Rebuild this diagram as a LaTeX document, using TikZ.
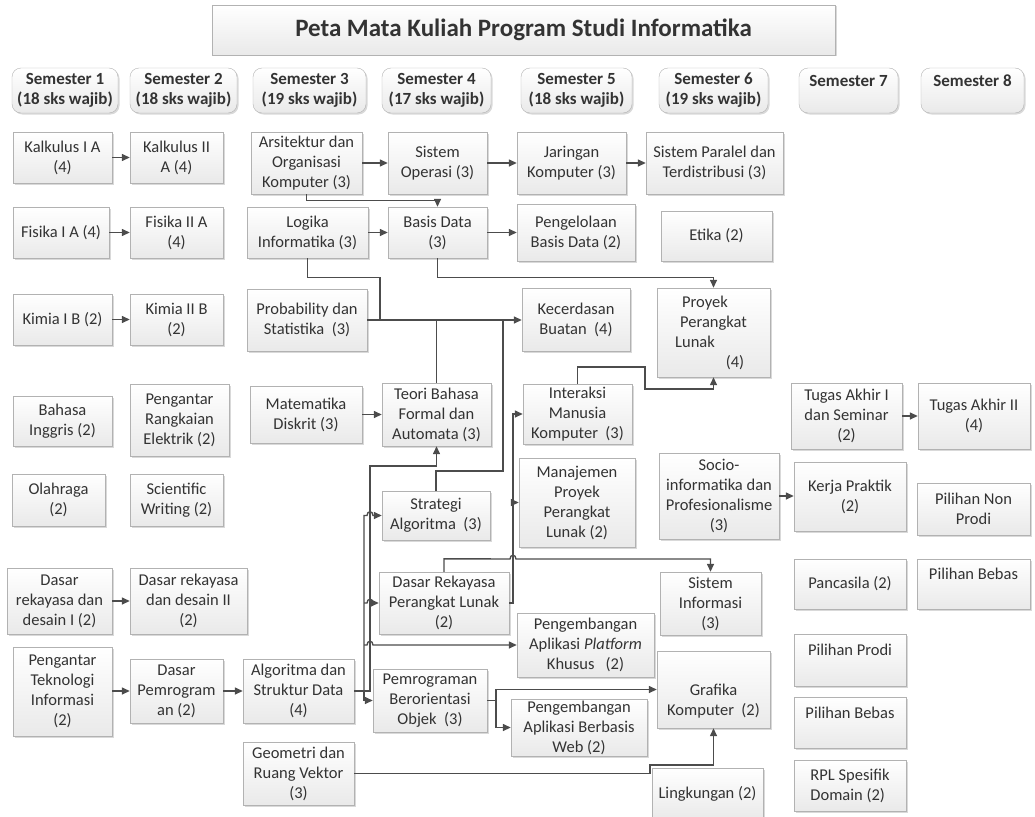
\documentclass[tikz,border=0pt]{standalone}
\usepackage{fontspec}
\setmainfont{Carlito}
\usetikzlibrary{arrows.meta,shadows}
\begin{document}
\begin{tikzpicture}[x=1pt,y=-1pt,>={Triangle[length=8pt,width=7pt]},
  box/.style={draw=gray!60,top color=white,bottom color=gray!17,drop shadow={shadow xshift=1.5pt,shadow yshift=-1.5pt,opacity=0.3},
    align=center,text=black!80,inner sep=1pt,font=\fontsize{16.5}{20}\selectfont},
  sem/.style={box,rounded corners=9pt,font=\bfseries\fontsize{17}{20}\selectfont},
  link/.style={draw=black!70,line width=1.4pt}]
\useasboundingbox (0,0) rectangle (1035,816);
\node[box,minimum width=623,minimum height=50,font=\bfseries\fontsize{25}{29}\selectfont] (title) at (523.5,30) {Peta Mata Kuliah Program Studi Informatika};
\node[sem,minimum width=106,minimum height=45] (s1) at (65,90.5) {Semester 1\\(18 sks wajib)};
\node[sem,minimum width=107,minimum height=45] (s2) at (183.5,90.5) {Semester 2\\(18 sks wajib)};
\node[sem,minimum width=113,minimum height=45] (s3) at (309.5,90.5) {Semester 3\\(19 sks wajib)};
\node[sem,minimum width=109,minimum height=45] (s4) at (436.5,90.5) {Semester 4\\(17 sks wajib)};
\node[sem,minimum width=111,minimum height=45] (s5) at (576.5,90.5) {Semester 5\\(18 sks wajib)};
\node[sem,minimum width=109,minimum height=45] (s6) at (713.5,90.5) {Semester 6\\(19 sks wajib)};
\node[sem,minimum width=99,minimum height=45] (s7) at (848.5,90.5) {Semester 7\\\mbox{}};
\node[sem,minimum width=103,minimum height=45] (s8) at (972.5,90.5) {Semester 8\\\mbox{}};
\node[box,minimum width=99,minimum height=51] (kal1) at (62.5,157.5) {Kalkulus I A\\(4)};
\node[box,minimum width=93,minimum height=51] (kal2) at (176.5,157.5) {Kalkulus II\\A (4)};
\node[box,minimum width=96,minimum height=51] (fis1) at (61,232.5) {Fisika I A (4)};
\node[box,minimum width=93,minimum height=51] (fis2) at (176.5,232.5) {Fisika II A\\(4)};
\node[box,minimum width=99,minimum height=51] (kim1) at (62.5,319.5) {Kimia I B (2)};
\node[box,minimum width=93,minimum height=51] (kim2) at (176.5,319.5) {Kimia II B\\(2)};
\node[box,minimum width=99,minimum height=50] (bing) at (62.5,421) {Bahasa\\Inggris (2)};
\node[box,minimum width=99,minimum height=72] (pre) at (179.5,420) {Pengantar\\Rangkaian\\Elektrik (2)};
\node[box,minimum width=93,minimum height=52] (olah) at (58.5,500) {Olahraga\\(2)};
\node[box,minimum width=93,minimum height=52] (sw) at (176.5,500) {Scientific\\Writing (2)};
\node[box,minimum width=105,minimum height=66] (drd1) at (59.5,601) {Dasar\\rekayasa dan\\desain I (2)};
\node[box,minimum width=117,minimum height=66] (drd2) at (188.5,601) {Dasar rekayasa\\dan desain II\\(2)};
\node[box,minimum width=99,minimum height=89] (pti) at (62.5,691.5) {Pengantar\\Teknologi\\Informasi\\(2)};
\node[box,minimum width=93,minimum height=64] (dp) at (176.5,691) {Dasar\\Pemrogram\\an (2)};
\node[box,minimum width=111,minimum height=62] (ars) at (306.5,163) {Arsitektur dan\\Organisasi\\Komputer (3)};
\node[box,minimum width=121,minimum height=51] (log) at (307.5,232.5) {Logika\\Informatika (3)};
\node[box,minimum width=120,minimum height=62] (prob) at (307,320) {Probability dan\\Statistika~~(3)};
\node[box,minimum width=112,minimum height=57] (md) at (306,414.5) {Matematika\\Diskrit (3)};
\node[box,minimum width=111,minimum height=64] (asd) at (298.5,691) {Algoritma dan\\Struktur Data\\(4)};
\node[box,minimum width=111,minimum height=63] (geo) at (298.5,773.5) {Geometri dan\\Ruang Vektor\\(3)};
\node[box,minimum width=99,minimum height=62] (so) at (437.5,163) {Sistem\\Operasi (3)};
\node[box,minimum width=99,minimum height=51] (bd) at (437.5,232.5) {Basis Data\\(3)};
\node[box,minimum width=109,minimum height=63] (tbf) at (436.5,414.5) {Teori Bahasa\\Formal dan\\Automata (3)};
\node[box,minimum width=108,minimum height=49] (stra) at (436,515.5) {Strategi\\Algoritma~~(3)};
\node[box,minimum width=130,minimum height=62] (drpl) at (444,603) {Dasar Rekayasa\\Perangkat Lunak\\(2)};
\node[box,minimum width=114,minimum height=63] (pbo) at (430,700.5) {Pemrograman\\Berorientasi\\Objek~~(3)};
\node[box,minimum width=109,minimum height=62] (jar) at (571.5,163) {Jaringan\\Komputer (3)};
\node[box,minimum width=118,minimum height=57] (pbd) at (576,232.5) {Pengelolaan\\Basis Data (2)};
\node[box,minimum width=108,minimum height=63] (kb) at (576,319.5) {Kecerdasan\\Buatan~~(4)};
\node[box,minimum width=109,minimum height=60] (imk) at (577.5,414) {Interaksi\\Manusia\\Komputer~~(3)};
\node[box,minimum width=116,minimum height=89] (mppl) at (577,502.5) {Manajemen\\Proyek\\Perangkat\\Lunak (2)};
\node[box,minimum width=137,minimum height=64] (papk) at (585.5,645) {Pengembangan\\Aplikasi \textit{Platform}\\Khusus~~~(2)};
\node[box,minimum width=136,minimum height=57] (pabw) at (579,727.5) {Pengembangan\\Aplikasi Berbasis\\Web (2)};
\node[box,minimum width=137,minimum height=62] (spt) at (714.5,163) {Sistem Paralel dan\\Terdistribusi (3)};
\node[box,minimum width=111,minimum height=50] (etika) at (716.5,236) {Etika (2)};
\node[box,minimum width=113,minimum height=89] (ppl) at (713.5,332.5) {Proyek\kern17pt\\Perangkat\\Lunak\kern37pt\\\kern43pt(4)};
\node[box,minimum width=120,minimum height=86] (socio) at (719,496) {Socio-\\informatika dan\\Profesionalisme\\(3)};
\node[box,minimum width=101,minimum height=63] (si) at (710.5,603.5) {Sistem\\Informasi\\(3)};
\node[box,minimum width=113,minimum height=77] (gk) at (713.5,689.5) {\strut\\Grafika\\Komputer~~(2)};
\node[box,minimum width=111,minimum height=52] (ling) at (707.5,794) {Lingkungan (2)};
\node[box,minimum width=111,minimum height=66] (ta1) at (846.5,416) {Tugas Akhir I\\dan Seminar\\(2)};
\node[box,minimum width=112,minimum height=69] (kp) at (850,496.5) {Kerja Praktik\\(2)};
\node[box,minimum width=112,minimum height=50] (panc) at (850,584) {Pancasila (2)};
\node[box,minimum width=112,minimum height=52] (pprodi) at (850,660) {Pilihan Prodi\\\mbox{}};
\node[box,minimum width=112,minimum height=51] (pbebas) at (850,722.5) {Pilihan Bebas\\\mbox{}};
\node[box,minimum width=112,minimum height=51,align=left] (rpl) at (850,785.5) {RPL Spesifik\\Domain (2)};
\node[box,minimum width=112,minimum height=66] (ta2) at (974,416) {Tugas Akhir II\\(4)};
\node[box,minimum width=113,minimum height=52] (pnp) at (973.5,509) {Pilihan Non\\Prodi};
\node[box,minimum width=113,minimum height=50] (pbebas2) at (973.5,584) {Pilihan Bebas\\\mbox{}};
\draw[link,->] (kal1) -- (kal2);
\draw[link,->] (fis1) -- (fis2);
\draw[link,->] (kim1) -- (kim2);
\draw[link,->] (drd1) -- (drd2);
\draw[link,->] (pti.east |- dp.west) -- (dp.west);
\draw[link,->] (dp) -- (asd);
\draw[link,->] (ars) -- (so);
\draw[link,->] (so) -- (jar);
\draw[link,->] (jar) -- (spt);
\draw[link,->] (ars.south) -- ++(0,6) -| (bd.north);
\draw[link,->] (log.east |- bd.west) -- (bd.west);
\draw[link,->] (bd) -- (pbd);
\draw[link,->] (bd.south) -- ++(0,19) -| (ppl.north);
\draw[link] (log.south) -- ++(0,19) -| (380,320);
\draw[link,->] (prob.east) -- (prob.east -| kb.west);
\draw[link] (tbf.north) -- (tbf.north |- prob.east);
\draw[link] (stra.north) -- ++(0,-20) -| (503,320);
\draw[link,->] (md.east |- tbf.west) -- (tbf.west);
\draw[link,->] (asd.east) -- (370,691) -- (370,466) -| (tbf.south);
\draw[link,->] (364,691) -- (364,515.5) -- (367,515.5) .. controls (367,510.5) and (373,510.5) .. (373,515.5) -- (stra.west);
\draw[link,->] (364,603) -- (367,603) .. controls (367,598) and (373,598) .. (373,603) -- (drpl.west);
\draw[link,->] (364,645) -- (367,645) .. controls (367,640) and (373,640) .. (373,645) -- (papk.west);
\draw[link,->] (364,691) -- (364,700.5) -- (pbo.west);
\draw[link,->] (drpl.east) -- (513,603) -- (513,414) -- (imk.west);
\draw[link,->] (513,502.5) -- (mppl.west);
\draw[link,->] (drpl.north) -- ++(0,-13) -- (510,559) .. controls (510,554) and (516,554) .. (516,559) -| (si.north);
\draw[link,->] (imk.north) -- ++(0,-17) -| (645,389) -| (ppl.south);
\draw[link,->] (socio) -- (socio -| kp.west);
\draw[link,->] (ta1) -- (ta2);
\draw[link,->] (pbo.east) -- (496,700.5) |- (gk.west);
\draw[link,->] (496,700.5) |- (pabw.west);
\draw[link,->] (geo.east) -- (650,773.5) -- (650,765) -| (gk.south);
\end{tikzpicture}
\end{document}
